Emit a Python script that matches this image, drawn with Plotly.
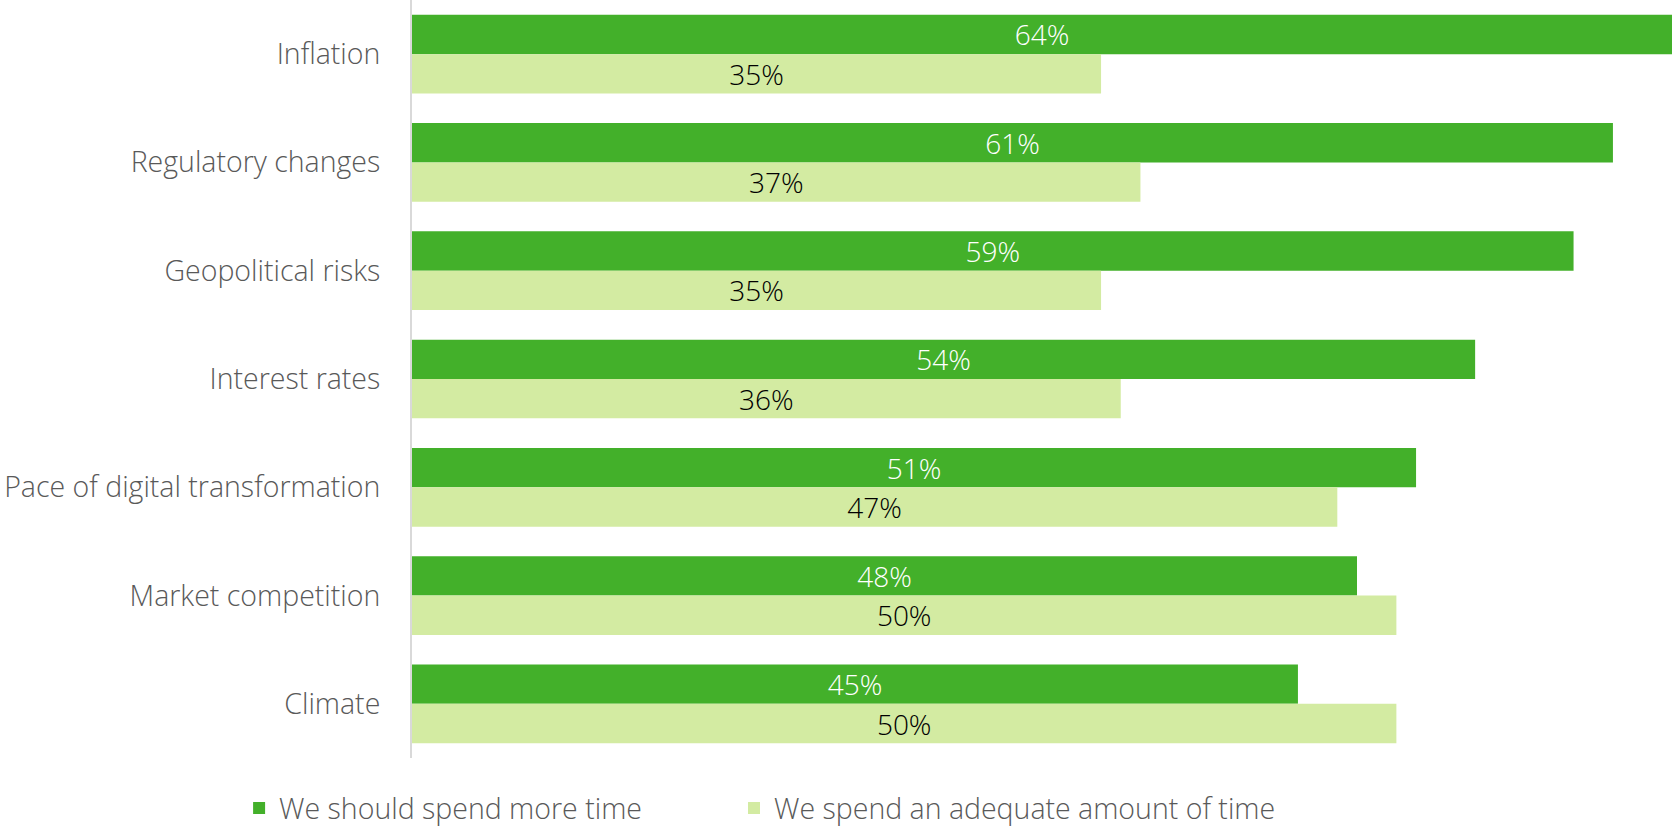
import plotly.graph_objects as go

categories = [
    "Inflation",
    "Regulatory changes",
    "Geopolitical risks",
    "Interest rates",
    "Pace of digital transformation",
    "Market competition",
    "Climate",
]
more_time = [64, 61, 59, 54, 51, 48, 45]
adequate_time = [35, 37, 35, 36, 47, 50, 50]

series_names = ["We should spend more time", "We spend an adequate amount of time"]
DARK = "#43b02a"
LIGHT = "#d3eba2"
FONT = "Open Sans"
LEGEND_FONT = dict(size=28.5, color="#595959", family=FONT, weight=300)

fig = go.Figure()
fig.add_trace(go.Bar(
    y=categories, x=more_time, orientation="h", name=series_names[0],
    marker=dict(color=DARK, line=dict(width=0)),
    text=[f"{v}%" for v in more_time], textposition="inside",
    insidetextanchor="middle", textangle=0, constraintext="none",
    textfont=dict(color="white", size=28, family=FONT, weight=300),
    legend="legend",
))
fig.add_trace(go.Bar(
    y=categories, x=adequate_time, orientation="h", name=series_names[1],
    marker=dict(color=LIGHT, line=dict(width=0)),
    text=[f"{v}%" for v in adequate_time], textposition="inside",
    insidetextanchor="middle", textangle=0, constraintext="none",
    textfont=dict(color="#000000", size=28, family=FONT, weight=300),
    legend="legend2",
))

legend_common = dict(
    orientation="h", xref="container", yref="container",
    y=0, xanchor="left", yanchor="bottom", font=LEGEND_FONT,
    bgcolor="rgba(0,0,0,0)", borderwidth=0,
)

fig.update_layout(
    width=1672, height=834,
    margin=dict(l=412, r=0, t=0, b=76, autoexpand=False),
    barmode="group", bargap=0.273, bargroupgap=0,
    plot_bgcolor="white", paper_bgcolor="white",
    font=dict(family=FONT, color="#595959", size=28, weight=300),
    xaxis=dict(range=[0, 64], visible=False, fixedrange=True),
    yaxis=dict(
        autorange="reversed", showline=True, linecolor="#d9d9d9", linewidth=2,
        ticks="", showgrid=False, ticklabelstandoff=24,
        tickfont=dict(size=28.5, color="#595959", family=FONT, weight=300),
    ),
    legend=dict(x=0.143, **legend_common),
    legend2=dict(x=0.439, **legend_common),
    showlegend=True,
)

fig.write_html("out.html")
